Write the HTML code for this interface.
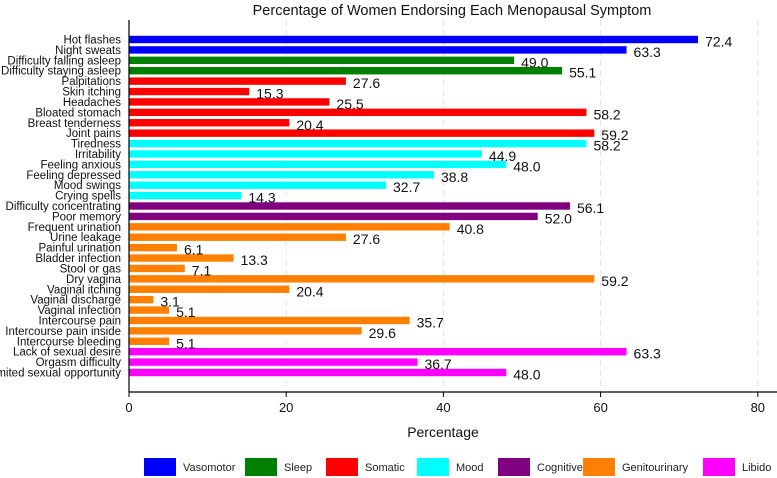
<!DOCTYPE html>
<html><head><meta charset="utf-8"><style>
body{margin:0;background:#fff;}
svg{display:block;font-family:"Liberation Sans",sans-serif;}
</style></head><body>
<svg id="chart" width="777" height="478" viewBox="0 0 777 478">
<text x="452" y="15" text-anchor="middle" font-size="14.5" fill="#111">Percentage of Women Endorsing Each Menopausal Symptom</text>
<g id="grid"></g><g id="bars"></g><g id="labels"></g><g id="axis"></g><g id="legend"></g>
</svg>
<script>
const categories=["Hot flashes","Night sweats","Difficulty falling asleep","Difficulty staying asleep","Palpitations","Skin itching","Headaches","Bloated stomach","Breast tenderness","Joint pains","Tiredness","Irritability","Feeling anxious","Feeling depressed","Mood swings","Crying spells","Difficulty concentrating","Poor memory","Frequent urination","Urine leakage","Painful urination","Bladder infection","Stool or gas","Dry vagina","Vaginal itching","Vaginal discharge","Vaginal infection","Intercourse pain","Intercourse pain inside","Intercourse bleeding","Lack of sexual desire","Orgasm difficulty","Limited sexual opportunity"];
const values=[72.4,63.3,49.0,55.1,27.6,15.3,25.5,58.2,20.4,59.2,58.2,44.9,48.0,38.8,32.7,14.3,56.1,52.0,40.8,27.6,6.1,13.3,7.1,59.2,20.4,3.1,5.1,35.7,29.6,5.1,63.3,36.7,48.0];
const groups=["Vasomotor","Vasomotor","Sleep","Sleep","Somatic","Somatic","Somatic","Somatic","Somatic","Somatic","Mood","Mood","Mood","Mood","Mood","Mood","Cognitive","Cognitive","Genitourinary","Genitourinary","Genitourinary","Genitourinary","Genitourinary","Genitourinary","Genitourinary","Genitourinary","Genitourinary","Genitourinary","Genitourinary","Genitourinary","Libido","Libido","Libido"];
const groupNames=["Vasomotor","Sleep","Somatic","Mood","Cognitive","Genitourinary","Libido"];
const groupColors=["#0000ff","#008000","#ff0000","#00ffff","#800080","#ff8000","#ff00ff"];
const xTicks=[0,20,40,60,80];
const NS="http://www.w3.org/2000/svg";
const x0=129,pxPer=7.86;
const xs=v=>x0+v*pxPer;
const n=categories.length;
const yTop=39.5,yBot=372.5;
const ys=i=>yTop+i*(yBot-yTop)/(n-1);
function mk(tag,attrs,parent){const e=document.createElementNS(NS,tag);for(const k in attrs)e.setAttribute(k,attrs[k]);parent.appendChild(e);return e;}
const G=id=>document.getElementById(id);
xTicks.forEach(t=>{if(t===0)return;const l=mk('line',{x1:xs(t),x2:xs(t),y1:20,y2:392,stroke:'#e4e4e4','stroke-dasharray':'6,4'},G('grid'));

});
categories.forEach((c,i)=>{
 const col=groupColors[groupNames.indexOf(groups[i])];
 const r=mk('rect',{x:x0,y:ys(i)-3.7,width:xs(values[i])-x0,height:7.4,fill:col},G('bars'));
 
 
 const t=mk('text',{x:121,y:ys(i)+4,'text-anchor':'end','font-size':'11.5',fill:'#111'},G('labels'));
 t.textContent=c;
 
 
 const v=mk('text',{x:xs(values[i])+7,y:ys(i)+7,'font-size':'14',fill:'#111'},G('labels'));
 v.textContent=values[i].toFixed(1);
 
 
});
const ax=G('axis');
let a=mk('line',{x1:x0,x2:x0,y1:20,y2:392,stroke:'#000','stroke-width':1.2},ax);


a=mk('line',{x1:x0,x2:777,y1:392,y2:392,stroke:'#000','stroke-width':1.2},ax);


xTicks.forEach(t=>{mk('line',{x1:xs(t),x2:xs(t),y1:392,y2:397,stroke:'#000'},ax);
 const tt=mk('text',{x:xs(t),y:412,'text-anchor':'middle','font-size':'13',fill:'#111'},ax);
 tt.textContent=t;
 
 });
const xt=mk('text',{x:443,y:437,'text-anchor':'middle','font-size':'14',fill:'#111'},ax);
xt.textContent='Percentage';


const lx=[144,245,326,417,498,583,703];
groupNames.forEach((g,i)=>{
 const r=mk('rect',{x:lx[i],y:458,width:32,height:18,fill:groupColors[i]},G('legend'));
 
 
 const t=mk('text',{x:lx[i]+39,y:471,'font-size':'11',fill:'#222'},G('legend'));
 t.textContent=g;
 
 
});
</script>
</body></html>
